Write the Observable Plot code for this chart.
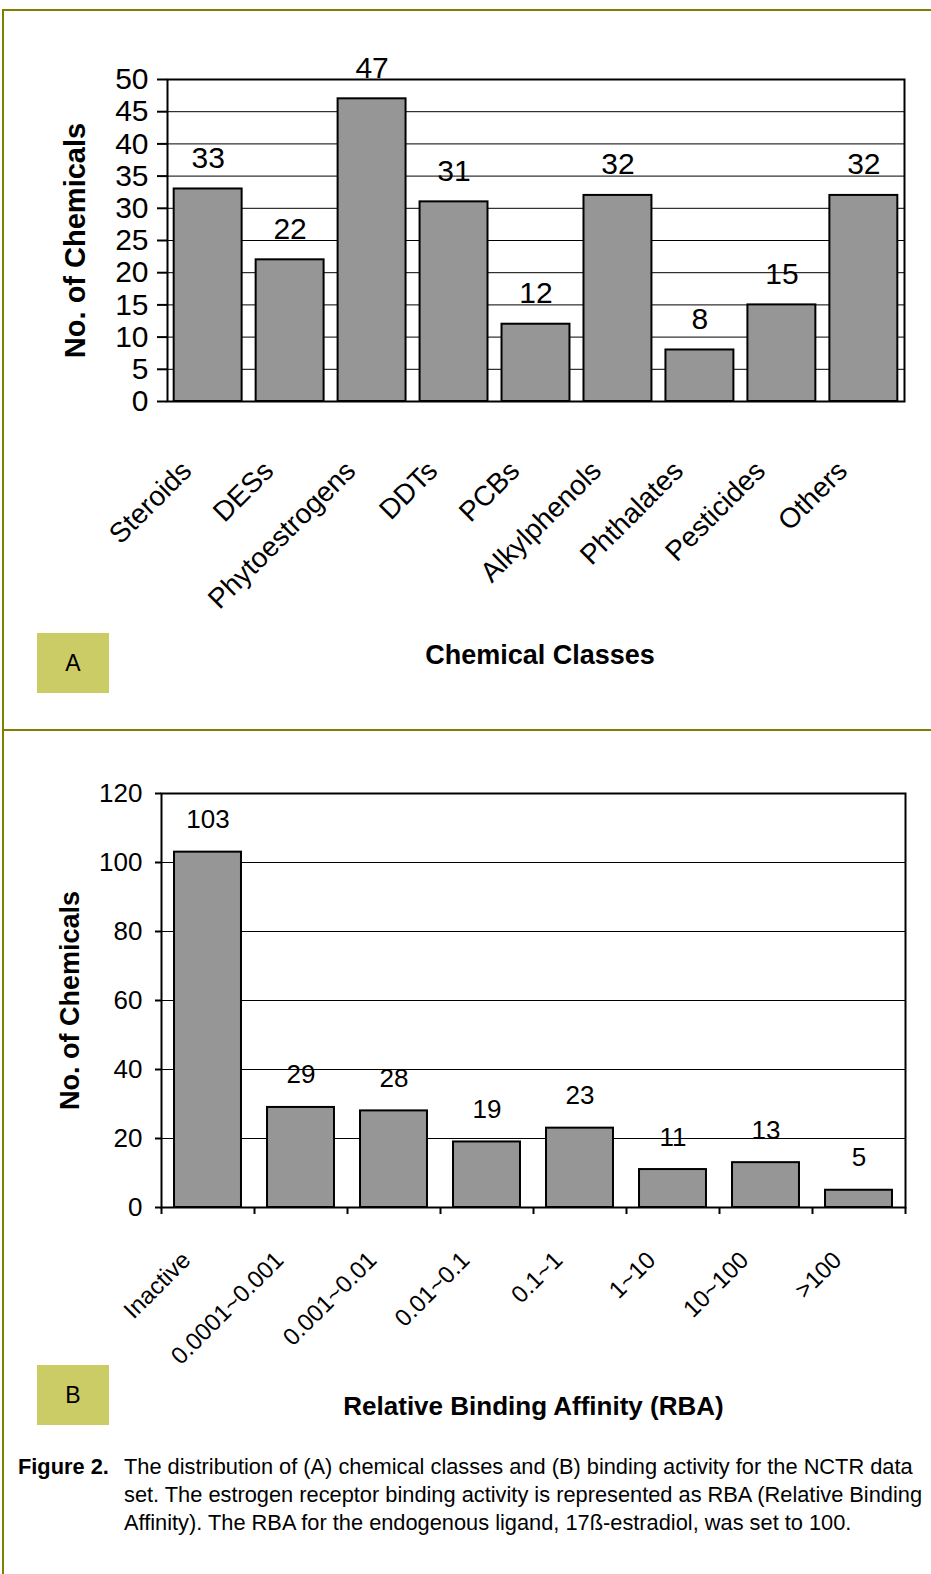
<!DOCTYPE html>
<html><head><meta charset="utf-8">
<script src="https://cdn.jsdelivr.net/npm/d3@7"></script>
<script src="https://cdn.jsdelivr.net/npm/@observablehq/plot@0.6"></script>
<style>
body{margin:0;background:#fff;font-family:"Liberation Sans",Arial,sans-serif;}
#page{position:relative;width:931px;height:1574px;overflow:hidden;background:#fff;}
.hl{position:absolute;background:#808000;}
.tag{position:absolute;left:37px;width:72px;height:60px;background:#cccc66;font-size:23px;display:flex;align-items:center;justify-content:center;color:#000;}
#chartA,#chartB{position:absolute;left:0;}
#chartA{top:0}
#chartB{top:730px}
#caption{position:absolute;top:1453px;left:18px;font-size:21.8px;line-height:28px;color:#000;white-space:nowrap;}
#caption b{position:absolute;left:0;top:0;}
#caption div{margin-left:106px;}
</style></head><body>
<div id="page">
  <div id="chartA"></div>
  <div id="chartB"></div>
  <div class="hl" style="left:2px;top:9px;width:929px;height:2px"></div>
  <div class="hl" style="left:2px;top:9px;width:2px;height:1565px"></div>
  <div class="hl" style="left:2px;top:729px;width:929px;height:2px"></div>
  <div class="tag" style="top:633px">A</div>
  <div class="tag" style="top:1365px">B</div>
  <div id="caption"><b>Figure 2.</b><div>The distribution of (A) chemical classes and (B) binding activity for the NCTR data<br>set. The estrogen receptor binding activity is represented as RBA (Relative Binding<br>Affinity). The RBA for the endogenous ligand, 17ß-estradiol, was set to 100.</div></div>
</div>
<script>
// ---- data ----
const classes = ["Steroids","DESs","Phytoestrogens","DDTs","PCBs","Alkylphenols","Phthalates","Pesticides","Others"];
const classCounts = [33,22,47,31,12,32,8,15,32];
const classTicks = [0,5,10,15,20,25,30,35,40,45,50];

const rbaBins = ["Inactive","0.0001~0.001","0.001~0.01","0.01~0.1","0.1~1","1~10","10~100",">100"];
const rbaCounts = [103,29,28,19,23,11,13,5];
const rbaTicks = [0,20,40,60,80,100,120];

const yTitle = "No. of Chemicals";
const xTitleA = "Chemical Classes";
const xTitleB = "Relative Binding Affinity (RBA)";

const font = "'Liberation Sans', Arial, Helvetica, sans-serif";
const W = 931;

// ---- panel A ----
const dataA = classes.map((c, i) => ({cls: c, n: classCounts[i]}));
const LA = {h: 700, mt: 79, mb: 299, ml: 167, mr: 27};
const plotA = Plot.plot({
  width: W, height: LA.h,
  marginTop: LA.mt, marginBottom: LA.mb, marginLeft: LA.ml, marginRight: LA.mr,
  style: {fontFamily: font, background: "transparent", color: "#000", overflow: "visible"},
  x: {type: "band", domain: classes, paddingInner: 0.171, paddingOuter: 0.0815, round: false, axis: null},
  y: {domain: [0, 50], axis: null},
  marks: [
    Plot.ruleY(classTicks, {stroke: "#000", strokeWidth: 1}),
    Plot.barY(dataA, {x: "cls", y: "n", fill: "#969696", stroke: "#000", strokeWidth: 2}),
    Plot.frame({stroke: "#000", strokeWidth: 2}),
    Plot.axisY(classTicks, {label: null, tickSize: 10, tickPadding: 9, fontSize: 30, strokeWidth: 2}),
    Plot.text(dataA, {x: "cls", y: "n", text: d => String(d.n), dy: -21, lineAnchor: "bottom", fontSize: 30}),
    Plot.text(classes, {x: d => d, frameAnchor: "bottom", rotate: -45, textAnchor: "end", lineAnchor: "top", dx: -29, dy: 57, fontSize: 28}),
    Plot.text([yTitle], {frameAnchor: "left", rotate: -90, textAnchor: "middle", lineAnchor: "bottom", dx: -83, fontSize: 29, fontWeight: "bold"}),
    Plot.text([xTitleA], {frameAnchor: "bottom", textAnchor: "middle", lineAnchor: "bottom", dx: 4, dy: 262, fontSize: 27, fontWeight: "bold"})
  ]
});
document.getElementById("chartA").append(plotA);

// ---- panel B ----
const dataB = rbaBins.map((c, i) => ({bin: c, n: rbaCounts[i]}));
const LB = {h: 700, mt: 63, mb: 223, ml: 161, mr: 26, pi: 0.28, po: 0.14};
const stepB = d3.scaleBand().domain(rbaBins).range([LB.ml, W - LB.mr]).paddingInner(LB.pi).paddingOuter(LB.po).step();
const plotB = Plot.plot({
  width: W, height: LB.h,
  marginTop: LB.mt, marginBottom: LB.mb, marginLeft: LB.ml, marginRight: LB.mr,
  style: {fontFamily: font, background: "transparent", color: "#000", overflow: "visible"},
  x: {type: "band", domain: rbaBins, paddingInner: LB.pi, paddingOuter: LB.po, round: false, axis: null},
  y: {domain: [0, 120], axis: null},
  marks: [
    Plot.ruleY(rbaTicks, {stroke: "#000", strokeWidth: 1}),
    Plot.barY(dataB, {x: "bin", y: "n", fill: "#969696", stroke: "#000", strokeWidth: 2}),
    Plot.frame({stroke: "#000", strokeWidth: 2}),
    Plot.axisY(rbaTicks, {label: null, tickSize: 6, tickPadding: 13, fontSize: 26, strokeWidth: 2}),
    Plot.ruleX(rbaBins, {x: d => d, y1: 0, y2: 0, insetBottom: -7, dx: -stepB / 2, stroke: "#000", strokeWidth: 2}),
    Plot.ruleX(rbaBins.slice(-1), {x: d => d, y1: 0, y2: 0, insetBottom: -7, dx: stepB / 2, stroke: "#000", strokeWidth: 2}),
    Plot.text(dataB, {x: "bin", y: "n", text: d => String(d.n), dy: -24, lineAnchor: "bottom", fontSize: 26}),
    Plot.text(rbaBins, {x: d => d, frameAnchor: "bottom", rotate: -45, textAnchor: "end", lineAnchor: "top", dx: -28, dy: 42, fontSize: 24}),
    Plot.text([yTitle], {frameAnchor: "left", rotate: -90, textAnchor: "middle", lineAnchor: "bottom", dx: -83, fontSize: 27, fontWeight: "bold"}),
    Plot.text([xTitleB], {frameAnchor: "bottom", textAnchor: "middle", lineAnchor: "bottom", dy: 207, fontSize: 26, fontWeight: "bold"})
  ]
});
document.getElementById("chartB").append(plotB);
</script>
</body></html>
